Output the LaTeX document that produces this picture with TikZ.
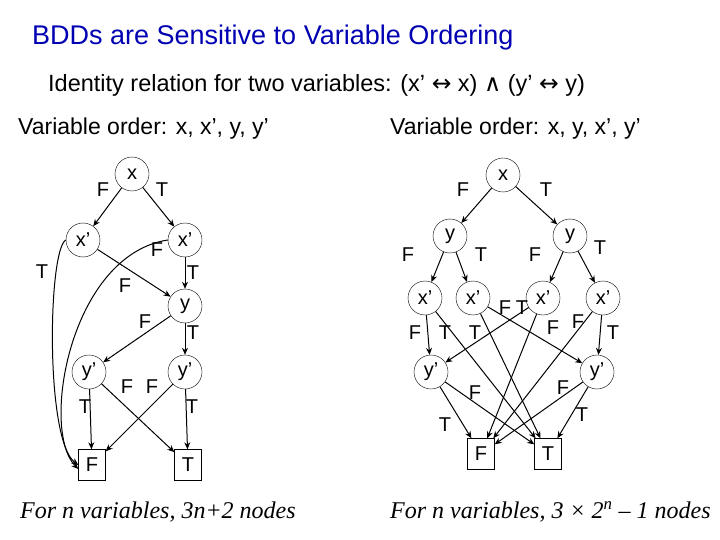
\documentclass[tikz,border=0pt]{standalone}
\usepackage{fontspec}
\setmainfont{Liberation Sans}
\newfontfamily\serifit{Liberation Serif}
\newfontfamily\symf{DejaVu Sans}
\usetikzlibrary{arrows.meta}
\begin{document}
\begin{tikzpicture}[x=1pt,y=-1pt,
  var/.style={draw,circle,minimum size=34pt,inner sep=0pt,font=\fontsize{20}{20}\selectfont},
  term/.style={draw,minimum width=27pt,minimum height=31pt,inner sep=0pt,font=\fontsize{20}{20}\selectfont},
  lab/.style={font=\fontsize{20}{20}\selectfont},
  e/.style={-{Stealth[length=7pt,width=6pt]},line width=1pt}]
\useasboundingbox (0,0) rectangle (720,540);
\node[anchor=west,inner sep=0pt,text=blue!70!black,font=\fontsize{27}{27}\selectfont] (title) at (32,38) {BDDs are Sensitive to Variable Ordering};
\node[anchor=west,inner sep=0pt,font=\fontsize{23.5}{23.5}\selectfont] (sub) at (48,85) {Identity relation for two variables: (x’ {\symf ↔} x) {\symf ∧} (y' {\symf ↔} y)};
\node[anchor=west,inner sep=0pt,font=\fontsize{23}{23}\selectfont] (o1) at (18,129) {Variable order: x, x’, y, y'};
\node[anchor=west,inner sep=0pt,font=\fontsize{23}{23}\selectfont] (o2) at (390,129) {Variable order: x, y, x’, y'};
\node[anchor=west,inner sep=0pt,font=\fontsize{24}{24}\selectfont\serifit\itshape] (b1) at (20,512) {For n variables, 3n+2 nodes};
\node[anchor=west,inner sep=0pt,font=\fontsize{24}{24}\selectfont\serifit\itshape] (b2) at (390,512) {For n variables, 3 × 2\textsuperscript{n} – 1 nodes};
% left graph
\node[var] (x) at (132,174) {x};
\node[var] (a1) at (83,240) {x’};
\node[var] (a2) at (185,240) {x’};
\node[var] (y) at (185,306) {y};
\node[var] (b1n) at (89,372) {y’};
\node[var] (b2n) at (185,372) {y’};
\node[term] (F) at (92,465) {F};
\node[term] (T) at (188,465) {T};
\draw[e] (x) -- (a1); \draw[e] (x) -- (a2);
\draw[e] (a1.west) .. controls (48,250) and (45,440) .. (F.west);
\draw[e] (a2.west) .. controls (70,255) and (40,430) .. ([yshift=-4pt]F.west);
\draw[e] (a1) -- (y); \draw[e] (a2) -- (y);
\draw[e] (y) -- (b1n); \draw[e] (y) -- (b2n);
\draw[e] (b1n) -- (F); \draw[e] (b1n) -- (T);
\draw[e] (b2n) -- (F); \draw[e] (b2n) -- (T);
\node[lab] at (103,190) {F}; \node[lab] at (162,190) {T};
\node[lab] at (42,272) {T}; \node[lab] at (157,250) {F};
\node[lab] at (125,286) {F}; \node[lab] at (193,273) {T};
\node[lab] at (145,322) {F}; \node[lab] at (193,333) {T};
\node[lab] at (85,407) {T}; \node[lab] at (127,387) {F};
\node[lab] at (152,387) {F}; \node[lab] at (192,407) {T};
% right graph
\node[var] (rx) at (503,175) {x};
\node[var] (ry1) at (450,236) {y};
\node[var] (ry2) at (570,236) {y};
\node[var] (c1) at (425,298) {x’};
\node[var] (c2) at (473,298) {x’};
\node[var] (c3) at (543,298) {x’};
\node[var] (c4) at (603,298) {x’};
\node[var] (d1) at (431,372) {y’};
\node[var] (d2) at (597,372) {y’};
\node[term] (RF) at (481,454) {F};
\node[term] (RT) at (548,454) {T};
\draw[e] (rx) -- (ry1); \draw[e] (rx) -- (ry2);
\draw[e] (ry1) -- (c1); \draw[e] (ry1) -- (c2);
\draw[e] (ry2) -- (c3); \draw[e] (ry2) -- (c4);
\draw[e] (c1) -- (d1); \draw[e] (c1) -- (RT);
\draw[e] (c2) -- (RT); \draw[e] (c2) -- (d2);
\draw[e] (c3) -- (d1); \draw[e] (c3) -- (RF);
\draw[e] (c4) -- (RF); \draw[e] (c4) -- (d2);
\draw[e] (d1) -- (RF); \draw[e] (d1) -- (RT);
\draw[e] (d2) -- (RF); \draw[e] (d2) -- (RT);
\node[lab] at (463,190) {F}; \node[lab] at (546,190) {T};
\node[lab] at (408,255) {F}; \node[lab] at (481,255) {T};
\node[lab] at (535,255) {F}; \node[lab] at (600,248) {T};
\node[lab] at (415,333) {F}; \node[lab] at (445,333) {T};
\node[lab] at (475,333) {T}; \node[lab] at (505,308) {F};
\node[lab] at (522,308) {T}; \node[lab] at (553,328) {F};
\node[lab] at (578,322) {F}; \node[lab] at (613,333) {T};
\node[lab] at (445,425) {T}; \node[lab] at (475,393) {F};
\node[lab] at (563,388) {F}; \node[lab] at (582,415) {T};
\end{tikzpicture}
\end{document}
